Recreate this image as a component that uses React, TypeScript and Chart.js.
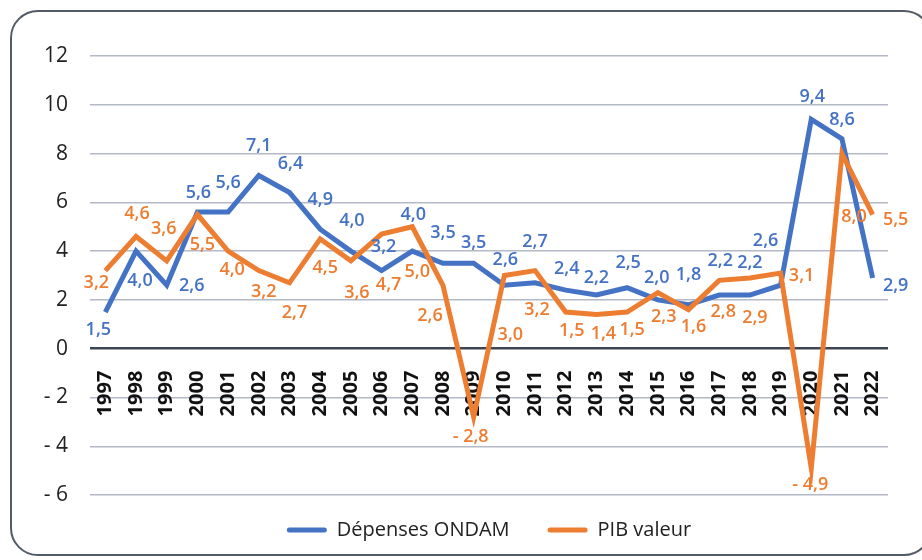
import React, { useEffect, useRef } from "react";
import { Chart, registerables } from "chart.js";

Chart.register(...registerables);

// ---------- data ----------
const years = [
  "1997", "1998", "1999", "2000", "2001", "2002", "2003", "2004", "2005",
  "2006", "2007", "2008", "2009", "2010", "2011", "2012", "2013", "2014",
  "2015", "2016", "2017", "2018", "2019", "2020", "2021", "2022",
];

const ondam = [
  1.5, 4.0, 2.6, 5.6, 5.6, 7.1, 6.4, 4.9, 4.0, 3.2, 4.0, 3.5, 3.5,
  2.6, 2.7, 2.4, 2.2, 2.5, 2.0, 1.8, 2.2, 2.2, 2.6, 9.4, 8.6, 2.9,
];

const pib = [
  3.2, 4.6, 3.6, 5.5, 4.0, 3.2, 2.7, 4.5, 3.6, 4.7, 5.0, 2.6, -2.8,
  3.0, 3.2, 1.5, 1.4, 1.5, 2.3, 1.6, 2.8, 2.9, 3.1, -4.9, 8.0, 5.5,
];

const seriesNames = ["Dépenses ONDAM", "PIB valeur"];

const Y_MIN = -6;
const Y_MAX = 12;
const Y_STEP = 2;

// ---------- label placement (pixel offsets from each point) ----------
const ondamLabelOffsets: [number, number][] = [
  [-7, 18], [4, 30], [25, 1], [1, -19], [0, -29], [0, -30], [1, -29], [0, -29],
  [1, -30], [2, -24], [1, -36], [0, -30], [0, -20], [1, -25], [0, -41], [1, -21],
  [0, -17], [1, -25], [-1, -22], [0, -30], [1, -34], [0, -32], [-15, -44], [1, -23],
  [0, -19], [23, 8],
];

const pibLabelOffsets: [number, number][] = [
  [-9, 12], [1, -23], [-3, -32], [5, 30], [4, 19], [5, 21], [5, 30], [5, 29],
  [6, 32], [7, 51], [5, 45], [-13, 31], [-3, 20], [6, 59], [2, 39], [6, 19],
  [7, 19], [5, 18], [6, 24], [5, 17], [4, 31], [5, 40], [21, 3], [-1, 17],
  [12, 63], [23, 5],
];

// ---------- styles ----------
const BLUE = "#4472C4";
const ORANGE = "#ED7D31";
const FONT = '"Open Sans", "Noto Sans", sans-serif';

const fmt = (v: number) =>
  (v < 0 ? "- " : "") + Math.abs(v).toFixed(1).replace(".", ",");

const fmtTick = (v: number) => (v < 0 ? "- " + Math.abs(v) : String(v));

const dataLabelPlugin = {
  id: "dataLabelPlugin",
  afterDatasetsDraw(chart: any) {
    const ctx = chart.ctx;
    ctx.save();
    ctx.font = `600 18px ${FONT}`;
    ctx.textAlign = "center";
    ctx.textBaseline = "middle";
    chart.data.datasets.forEach((ds: any, di: number) => {
      const meta = chart.getDatasetMeta(di);
      const offs: [number, number][] = ds.labelOffsets || [];
      ctx.fillStyle = ds.borderColor;
      meta.data.forEach((pt: any, i: number) => {
        const v = ds.data[i];
        const [dx, dy] = offs[i] || [0, -20];
        ctx.fillText(fmt(v), pt.x + dx, pt.y + dy);
      });
    });
    ctx.restore();
  },
};

const legendShiftPlugin = {
  id: "legendShiftPlugin",
  afterLayout(chart: any) {
    const lg = chart.legend;
    if (lg) {
      lg.top -= 13;
      lg.bottom -= 13;
    }
  },
};

export default function App() {
  const canvasRef = useRef<HTMLCanvasElement | null>(null);

  useEffect(() => {
    if (!canvasRef.current) return;
    const chart = new Chart(canvasRef.current, {
      type: "line",
      data: {
        labels: years,
        datasets: [
          {
            label: seriesNames[0],
            data: ondam,
            borderColor: BLUE,
            backgroundColor: BLUE,
            borderWidth: 5,
            pointRadius: 0,
            pointHoverRadius: 0,
            tension: 0,
            order: 1,
            labelOffsets: ondamLabelOffsets,
          } as any,
          {
            label: seriesNames[1],
            data: pib,
            borderColor: ORANGE,
            backgroundColor: ORANGE,
            borderWidth: 5,
            pointRadius: 0,
            pointHoverRadius: 0,
            tension: 0,
            order: 0,
            labelOffsets: pibLabelOffsets,
          } as any,
        ],
      },
      options: {
        responsive: false,
        animation: false,
        events: [],
        layout: { padding: { top: 56, right: 34, bottom: 0, left: 0 } },
        scales: {
          x: {
            type: "category",
            offset: true,
            position: { y: 0 } as any,
            grid: { display: false },
            border: { display: false },
            ticks: {
              autoSkip: false,
              minRotation: 90,
              maxRotation: 90,
              padding: 14,
              color: "#111111",
              font: { family: FONT, size: 20, weight: "bold" },
            },
          },
          y: {
            min: Y_MIN,
            max: Y_MAX,
            afterFit(scale: any) {
              scale.width = 90;
            },
            ticks: {
              stepSize: Y_STEP,
              padding: 22,
              color: "#222222",
              font: { family: FONT, size: 21 },
              callback: (v: any) => fmtTick(Number(v)),
            },
            grid: {
              drawTicks: false,
              color: (c: any) => (c.tick && c.tick.value === 0 ? "#3d4654" : "#b3b9c6"),
              lineWidth: (c: any) => (c.tick && c.tick.value === 0 ? 2.6 : 1.4),
            },
            border: { display: false },
          },
        },
        plugins: {
          tooltip: { enabled: false },
          legend: {
            position: "bottom",
            fullSize: false,
            maxHeight: 65,
            labels: {
              boxWidth: 40,
              boxHeight: 5,
              padding: 38,
              color: "#222222",
              useBorderRadius: true,
              borderRadius: 2.5,
              font: { family: FONT, size: 20 },
              sort: (a: any, b: any) => a.datasetIndex - b.datasetIndex,
              generateLabels: (ch: any) => {
                const items = Chart.defaults.plugins.legend.labels.generateLabels(ch);
                return items.map((it: any) => ({ ...it, lineWidth: 0 }));
              },
            },
          },
        },
      } as any,
      plugins: [dataLabelPlugin, legendShiftPlugin],
    });
    return () => chart.destroy();
  }, []);

  return (
    <div
      style={{
        position: "fixed",
        left: 0,
        top: 0,
        width: 922,
        height: 560,
        overflow: "hidden",
        background: "#ffffff",
      }}
    >
      <div
        style={{
          position: "absolute",
          left: 10,
          top: 10,
          width: 922,
          height: 546,
          boxSizing: "border-box",
          border: "2.5px solid #535b67",
          borderRadius: 28,
        }}
      />
      <canvas
        ref={canvasRef}
        width={922}
        height={560}
        style={{ position: "absolute", left: 0, top: 0, width: 922, height: 560 }}
      />
    </div>
  );
}
